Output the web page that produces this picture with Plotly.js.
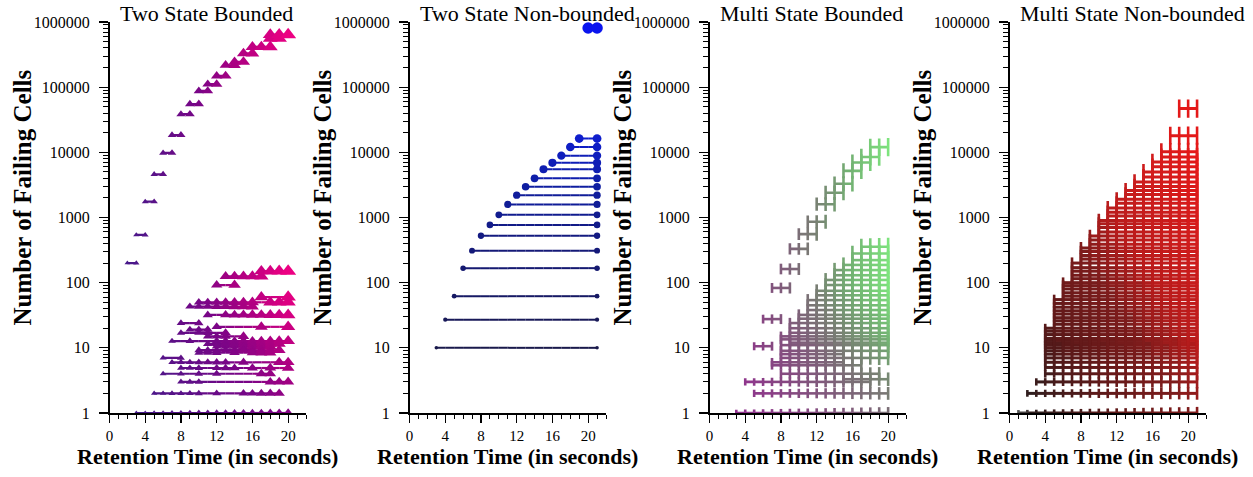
<!DOCTYPE html>
<html><head><meta charset="utf-8">
<script src="https://cdn.plot.ly/plotly-3.0.1.min.js"></script>
<style>html,body{margin:0;padding:0;background:#fff}#chart{width:1253px;height:477px}</style>
</head><body><div id="chart"></div>
<script>
const panelTitles = ['Two State Bounded', 'Two State Non-bounded', 'Multi State Bounded', 'Multi State Non-bounded'];
const xTitle = 'Retention Time (in seconds)';
const yTitle = 'Number of Failing Cells';
const xTickVals = [0, 4, 8, 12, 16, 20];

// Panel 1: Two State Bounded (count level, retention times where a failure point is marked)
const p1Counts = [200, 540, 1750, 4600, 9800, 18400, 38500, 55000, 87700, 111000, 149000, 217000, 244000, 329000, 415000, 560000, 640000,
  150, 125, 92, 60, 50, 43, 32, 24, 21, 19, 17, 15, 12.7, 11.5, 10.5, 9.2, 8.4, 7, 6, 4.9, 4, 3, 2, 1];
const p1Times = [[2,3],[3,4],[4,5],[5,6],[6,7],[7,8],[8,9],[9,10],[10,11],[11,12],[12,13],[13,14],[14,15],[15,16],[16,17,18],[18,19],[18,19,20],
  [17,18,19,20],[13,14,15,16,17],[12,14],[17,20],[10,11,12,13,14,15,16,18,19,20],[9,10,11,12,13,14,15,16],[11,13,14,15,16,17,18,19,20],
  [8,10],[12,17,20],[9,10,11],[8,10,11,13],[11,12,13,15],[7,9,12,13,14,15,16,17,18,19,20],[11,12,13,14,15,16,17,18,19],[12,13,14,15,16,17,18],
  [10,11,12,13,14,15,16,17,18,19],[10,11,12,14,16,17,18],[6,8],[7,8,9,10,11,12,13,15,19,20],[8,9,10,12,13,14,16,18,20],[6,8,10,12,17,18],
  [8,9,10,18,19,20],[5,6,7,8,9,10,12,15,16,17,18,19],[3,4,5,6,7,8,9,10,11,12,13,14,15,16,17,18,19,20]];

// Panel 2: Two State Non-bounded (count level, first and last retention time)
const p2Counts = [10, 27, 62, 167, 310, 525, 770, 1100, 1590, 2200, 2960, 4000, 5500, 6900, 8900, 12100, 16300, 810000];
const p2Start  = [3, 4, 5, 6, 7, 8, 9, 10, 11, 12, 13, 14, 15, 16, 17, 18, 19, 20];
const p2End    = [21, 21, 21, 21, 21, 21, 21, 21, 21, 21, 21, 21, 21, 21, 21, 21, 21, 21];

// Panel 3: Multi State Bounded (count level, first and last retention time, marked every second)
const p3Counts = [10.6, 27.6, 83, 162, 330, 556, 860, 1600, 2400, 3300, 5200, 7000, 8500, 12000,
  1, 2, 3, 3.3, 4, 5.4, 6, 7, 8, 9, 11, 12, 13.5, 15, 17, 20, 24, 28, 32, 38, 45, 54, 64, 75, 92, 110, 130, 156, 187, 222, 280, 355];
const p3Start  = [5, 6, 7, 8, 9, 10, 11, 12, 13, 14, 15, 16, 17, 18,
  3, 5, 4, 15, 8, 7, 7, 8, 8, 8, 8, 9, 8, 8, 9, 9, 9, 10, 10, 11, 11, 11, 12, 12, 13, 13, 14, 14, 15, 16, 16, 17];
const p3End    = [7, 8, 9, 10, 11, 12, 13, 14, 15, 16, 17, 18, 19, 20,
  20, 20, 18, 20, 19, 17, 15, 20, 15, 20, 20, 20, 20, 20, 20, 20, 20, 20, 20, 20, 20, 20, 20, 20, 20, 20, 20, 20, 20, 20, 20, 20];

// Panel 4: Multi State Non-bounded
const p4Counts = [1, 2, 3, 4, 5, 6, 7, 8, 9, 10, 11, 12, 13, 14, 16, 18, 20,
  23, 26, 29, 33, 37, 42, 48, 55, 62, 70, 80, 90, 100, 115, 130, 150, 170, 200, 230, 260, 300, 340, 390, 450, 520,
  600, 700, 800, 900, 1050, 1200, 1400, 1650, 1900, 2250, 2600, 3000, 3500, 4200, 5000, 6000, 7100, 8500, 10200, 18000, 47000];
const p4Start  = [1, 2, 3, 4, 4, 4, 4, 4, 4, 4, 4, 4, 4, 4, 4, 4, 4,
  5, 5, 5, 5, 5, 5, 5, 5, 6, 6, 6, 6, 6, 7, 7, 7, 7, 7, 8, 8, 8, 8, 9, 9, 9,
  10, 10, 10, 10, 11, 11, 11, 12, 12, 13, 13, 14, 14, 15, 15, 16, 16, 17, 17, 18, 19];
const p4End    = [21, 21, 21, 21, 21, 21, 21, 21, 21, 21, 21, 21, 21, 21, 21, 21, 21,
  21, 21, 21, 21, 21, 21, 21, 21, 21, 21, 21, 21, 21, 21, 21, 21, 21, 21, 21, 21, 21, 21, 21, 21, 21,
  21, 21, 21, 21, 21, 21, 21, 21, 21, 21, 21, 21, 21, 21, 21, 21, 21, 21, 21, 21, 21];

const W = 1253, H = 477;
const clamp = v => Math.max(0, Math.min(1, v));
function lerpColor(stops, t) {
  t = clamp(t);
  for (let i = 1; i < stops.length; i++) {
    if (t <= stops[i][0]) {
      const [t0, c0] = stops[i - 1], [t1, c1] = stops[i];
      const f = (t - t0) / ((t1 - t0) || 1);
      return 'rgb(' + c0.map((v, j) => Math.round(v + (c1[j] - v) * f)).join(',') + ')';
    }
  }
  return 'rgb(' + stops[stops.length - 1][1].join(',') + ')';
}
function seconds(a, b) { const r = []; for (let s = a; s <= b; s++) r.push(s); return r; }

const panels = [
  { rows: p1Counts.map((c, i) => ({ y: c, m: p1Times[i] })),
    tf: (x, y) => clamp(x / 20 * Math.min(1, 0.55 + 0.225 * Math.log10(y))),
    stops: [[0, [60, 30, 140]], [0.3, [95, 15, 135]], [0.5, [122, 5, 135]], [0.7, [170, 0, 130]], [1, [236, 0, 130]]],
    symbol: 'triangle-up', size: t => 4 + 10 * t, lw: 2.2 },
  { rows: p2Counts.map((c, i) => ({ y: c, m: [p2Start[i], p2End[i]] })),
    tf: (x, y) => clamp((Math.log10(y) - 1) / 4.9),
    stops: [[0, [25, 25, 75]], [0.3, [20, 25, 120]], [0.5, [15, 30, 160]], [0.66, [15, 30, 205]], [1, [10, 20, 238]]],
    symbol: 'circle', size: t => 3.5 + 8 * t, lw: 2 },
  { rows: p3Counts.map((c, i) => ({ y: c, m: seconds(p3Start[i], p3End[i]) })),
    tf: (x, y) => clamp(x / 20 * Math.min(1, 0.5 + 0.25 * Math.log10(y))),
    stops: [[0, [150, 40, 150]], [0.25, [135, 70, 130]], [0.45, [125, 100, 120]], [0.6, [120, 130, 115]], [0.8, [115, 180, 115]], [1, [125, 228, 125]]],
    symbol: 'line-ns', size: t => 4 + 9 * t, lw: 2.6 },
  { rows: p4Counts.map((c, i) => ({ y: c, m: seconds(p4Start[i], p4End[i]) })),
    tf: (x, y) => clamp(0.025 * x + 0.12 * Math.log10(y)),
    stops: [[0, [110, 120, 120]], [0.07, [45, 30, 30]], [0.3, [95, 25, 25]], [0.5, [125, 28, 28]], [0.65, [185, 28, 28]], [0.85, [210, 28, 28]], [1, [228, 25, 25]]],
    symbol: 'line-ns', size: t => 4 + 9 * t, lw: 3 }
];

const traces = [];
const layout = {
  width: W, height: H, margin: { l: 0, r: 0, t: 0, b: 0 },
  paper_bgcolor: '#fff', plot_bgcolor: '#fff', showlegend: false,
  font: { family: 'Liberation Serif, serif', color: '#000' },
  annotations: []
};
const NL = 24;
panels.forEach((p, k) => {
  const sfx = k ? String(k + 1) : '';
  const xa = 'x' + sfx, ya = 'y' + sfx;
  const x0 = 109.5 + 300 * k, pw = 196.5;
  const lx = [], ly = [];
  for (let l = 0; l <= NL; l++) { lx.push([]); ly.push([]); }
  p.rows.forEach(r => {
    const ms = r.m.slice().sort((a, b) => a - b);
    const lo = ms[0], hi = ms[ms.length - 1];
    const bp = new Set(ms);
    for (let s = Math.ceil(lo); s < hi; s++) if (s > lo) bp.add(s);
    const pts = Array.from(bp).sort((a, b) => a - b);
    for (let i = 0; i + 1 < pts.length; i++) {
      const mid = (pts[i] + pts[i + 1]) / 2;
      const lev = Math.round(p.tf(mid, r.y) * NL);
      lx[lev].push(pts[i], pts[i + 1], null);
      ly[lev].push(r.y, r.y, null);
    }
  });
  for (let l = 0; l <= NL; l++) {
    if (!lx[l].length) continue;
    traces.push({ type: 'scatter', mode: 'lines', x: lx[l], y: ly[l], xaxis: xa, yaxis: ya,
      line: { color: lerpColor(p.stops, l / NL), width: p.lw }, hoverinfo: 'skip', connectgaps: false });
  }
  const mx = [], my = [], mc = [], msz = [];
  p.rows.forEach(r => r.m.forEach(x => {
    const t = p.tf(x, r.y);
    mx.push(x); my.push(r.y); mc.push(lerpColor(p.stops, t)); msz.push(p.size(t));
  }));
  const isBar = p.symbol === 'line-ns';
  traces.push({ type: 'scatter', mode: 'markers', x: mx, y: my, xaxis: xa, yaxis: ya, hoverinfo: 'skip',
    marker: { symbol: p.symbol, size: msz, color: mc, opacity: 1,
      line: isBar ? { color: mc, width: 2.6 } : { width: 0 } } });

  layout['xaxis' + sfx] = {
    domain: [x0 / W, (x0 + pw) / W], range: [0, 22], anchor: ya,
    tickmode: 'array', tickvals: xTickVals, ticks: 'outside', ticklen: 8, tickwidth: 1.2, tickcolor: '#000',
    minor: { tickmode: 'linear', tick0: 0, dtick: 1, ticks: 'outside', ticklen: 4, tickwidth: 1, tickcolor: '#000', showgrid: false },
    showline: true, linecolor: '#000', linewidth: 1.5, showgrid: false, zeroline: false,
    tickfont: { family: 'Liberation Serif, serif', size: 15, color: '#000' }, fixedrange: true
  };
  layout['yaxis' + sfx] = {
    domain: [64 / H, 455 / H], type: 'log', range: [0, 6], anchor: xa,
    dtick: 1, tickformat: 'd', ticks: 'outside', ticklen: 9, tickwidth: 1.2, tickcolor: '#000', ticklabelstandoff: 6,
    minor: { dtick: 'D1', ticks: 'outside', ticklen: 5, tickwidth: 1, tickcolor: '#000', showgrid: false },
    showline: true, linecolor: '#000', linewidth: 1.5, showgrid: false, zeroline: false,
    tickfont: { family: 'Liberation Serif, serif', size: 16, color: '#000' }, fixedrange: true
  };
  layout.annotations.push(
    { xref: 'paper', yref: 'paper', x: (x0 + 8) / W, y: 1 - 14 / H, xanchor: 'left', yanchor: 'middle', showarrow: false,
      text: panelTitles[k], font: { family: 'Liberation Serif, serif', size: 22, color: '#000' } },
    { xref: 'paper', yref: 'paper', x: (x0 - 88) / W, y: 1 - 198 / H, xanchor: 'center', yanchor: 'middle', showarrow: false,
      textangle: -90, text: '<b>' + yTitle + '</b>', font: { family: 'Liberation Serif, serif', size: 25, color: '#000' } },
    { xref: 'paper', yref: 'paper', x: (x0 + 98) / W, y: 1 - 456 / H, xanchor: 'center', yanchor: 'middle', showarrow: false,
      text: '<b>' + xTitle + '</b>', font: { family: 'Liberation Serif, serif', size: 22, color: '#000' } }
  );
});

Plotly.newPlot('chart', traces, layout, { staticPlot: true, displayModeBar: false });
</script>
</body></html>
